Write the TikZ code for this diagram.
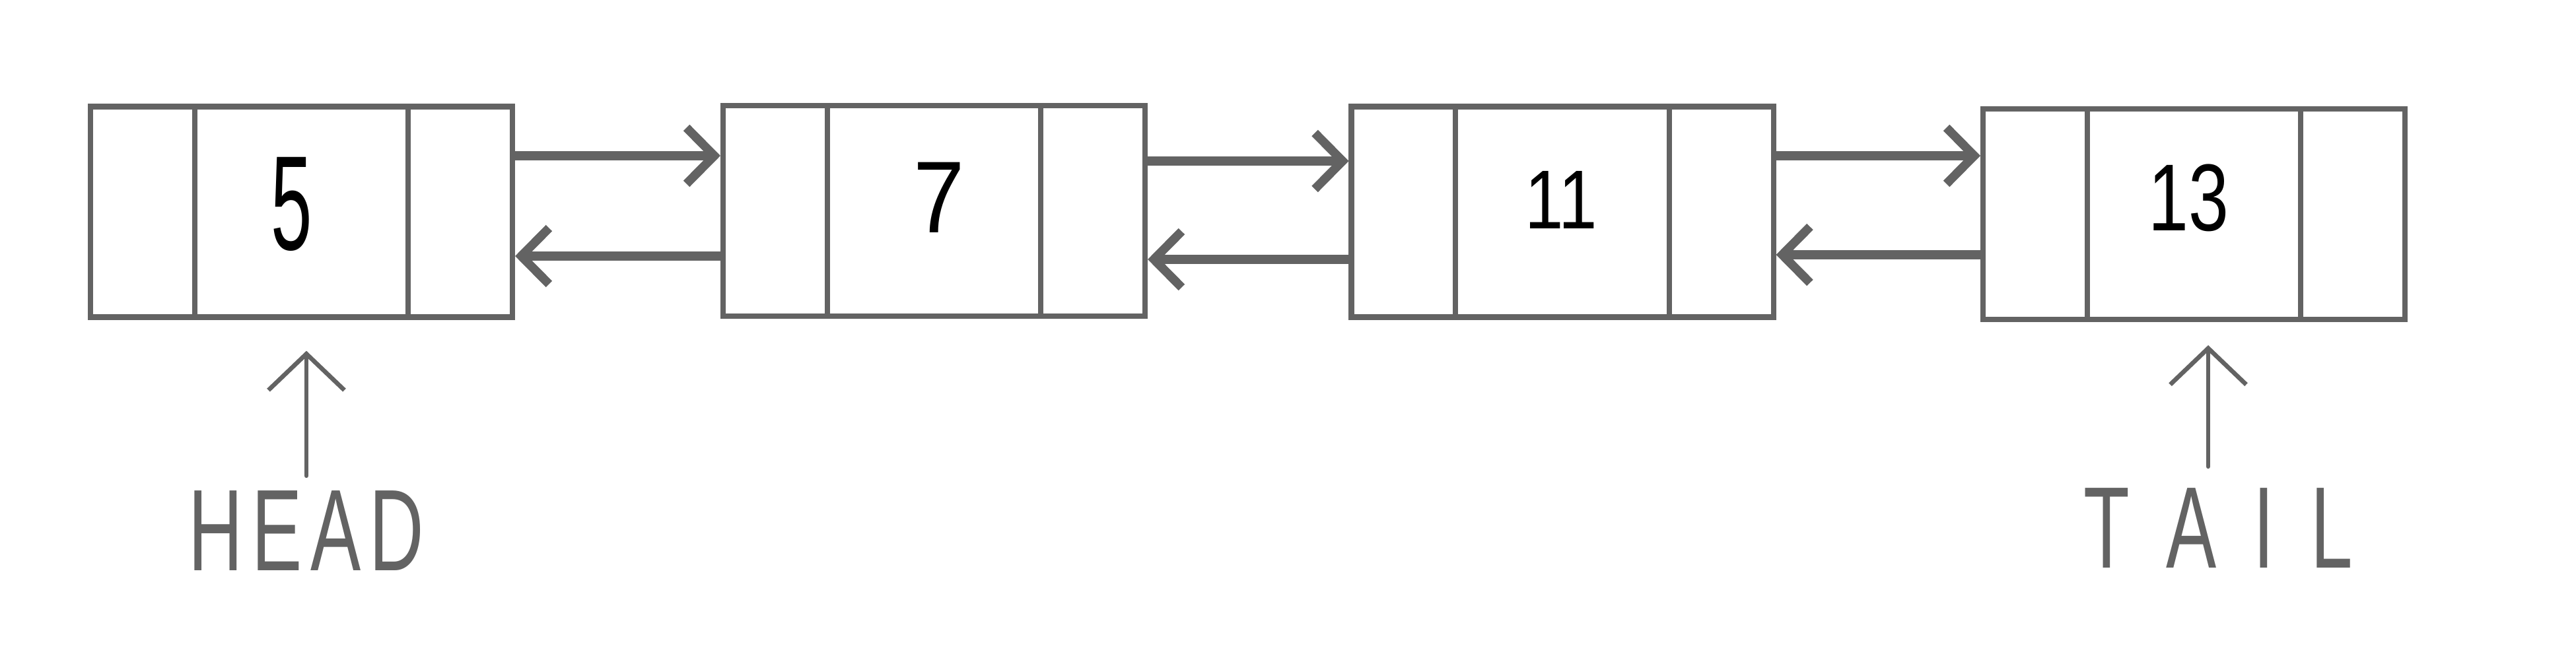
\documentclass[tikz,border=0pt]{standalone}
\usepackage{fontspec}
\setmainfont{Liberation Sans}
\usetikzlibrary{arrows.meta,calc}
\definecolor{lineg}{RGB}{99,99,99}
\begin{document}
\begin{tikzpicture}[
  cell/.style={draw=lineg, line width=2.3pt, minimum width=6.39cm, minimum height=3.19cm, inner sep=0pt},
  divider/.style={draw=lineg, line width=2.3pt},
  link/.style={draw=lineg, line width=3.8pt, -{Straight Barb[length=0.42cm,width=0.85cm]}},
  ptr/.style={draw=lineg, line width=1.9pt, line cap=round, -{Straight Barb[length=0.55cm,width=1.15cm]}},
  digit/.style={text=black, inner sep=0pt},
  lbl/.style={text=lineg, inner sep=0pt, font=\fontsize{50}{56}\selectfont}
]
\useasboundingbox (0,0) rectangle (39.01,-10);
% boxes
\node[cell] (b1) at (4.565,-3.21) {};
\node[cell] (b2) at (14.145,-3.195) {};
\node[cell] (b3) at (23.66,-3.21) {};
\node[cell] (b4) at (33.225,-3.245) {};
% dividers
\foreach \b in {b1,b2,b3,b4}{
  \draw[divider] ($(\b.north west)!0.25!(\b.north east)$) -- ($(\b.south west)!0.25!(\b.south east)$);
  \draw[divider] ($(\b.north west)!0.75!(\b.north east)$) -- ($(\b.south west)!0.75!(\b.south east)$);
}
% values
\node[digit, font=\fontsize{58}{60}\selectfont] (d1) at ($(b1.center)+(-0.15,0.12)$) {\scalebox{0.55}[1]{5}};
\node[digit, font=\fontsize{44}{48}\selectfont] (d2) at ($(b2.center)+(0.08,0.2)$) {\scalebox{0.9}[1]{7}};
\node[digit, font=\fontsize{36}{40}\selectfont] (d3) at ($(b3.center)+(-0.02,0.18)$) {\scalebox{0.83}[1]{11}};
\node[digit, font=\fontsize{41}{44}\selectfont] (d4) at ($(b4.center)+(-0.08,0.25)$) {\scalebox{0.76}[1]{13}};
% links
\draw[link] (b1.east |- 0,-2.36) -- (b2.west |- 0,-2.36);
\draw[link] (b2.west |- 0,-3.88) -- (b1.east |- 0,-3.88);
\draw[link] (b2.east |- 0,-2.44) -- (b3.west |- 0,-2.44);
\draw[link] (b3.west |- 0,-3.93) -- (b2.east |- 0,-3.93);
\draw[link] (b3.east |- 0,-2.36) -- (b4.west |- 0,-2.36);
\draw[link] (b4.west |- 0,-3.86) -- (b3.east |- 0,-3.86);
% head / tail labels
\node[lbl] (headlbl) at (4.64,-8.04) {\scalebox{0.65}[1]{H\kern0.2cm E\kern0.2cm A\kern0.2cm D}};
\node[lbl] (taillbl) at (33.59,-8.0) {\scalebox{0.65}[1]{T\kern0.85cm A\kern0.85cm I\kern0.85cm L}};
\draw[ptr] ($(headlbl.north)+(0,0.22)$) -- ($(headlbl.north |- b1.south)+(0,-0.47)$);
\draw[ptr] ($(taillbl.north)+(-0.15,0.32)$) -- ($(taillbl.north |- b4.south)+(-0.15,-0.35)$);
\end{tikzpicture}
\end{document}
